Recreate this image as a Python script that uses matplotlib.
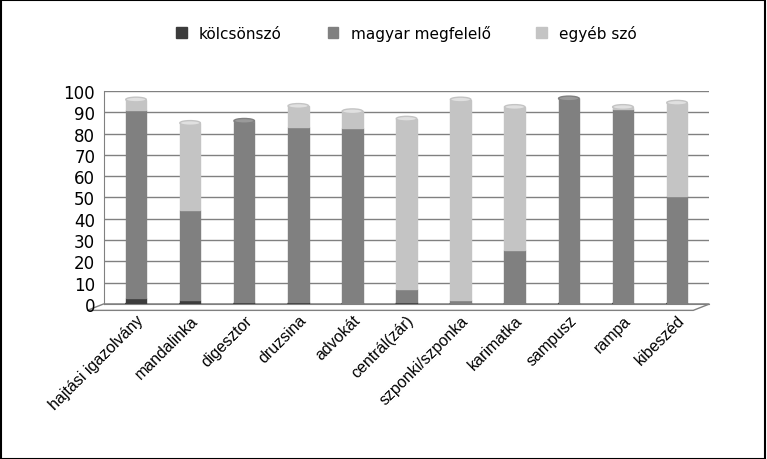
import matplotlib.pyplot as plt
from matplotlib.patches import Ellipse, Polygon
import numpy as np

categories = ['hajtási igazolvány', 'mandalinka', 'digesztor', 'druzsina', 'advokát',
              'centrál(zár)', 'szponki/szponka', 'karimatka', 'sampusz', 'rampa', 'kibeszéd']
kolcson = [3, 2, 1, 1, 0.5, 1, 0.5, 0.5, 0.5, 0.5, 0.5]
magyar = [88, 42, 85, 82, 82, 6, 1.5, 25, 96, 91, 50]
egyeb = [5, 41, 0, 10, 8, 80, 94, 67, 0, 1, 44]

colors = ['#3c3c3c', '#808080', '#c4c4c4']
names = ['kölcsönszó', 'magyar megfelelő', 'egyéb szó']

fig = plt.figure(figsize=(7.67, 4.6), dpi=100)
ax = fig.add_axes([0.135, 0.337, 0.79, 0.463])
x = np.arange(len(categories))
w = 0.38
bottoms = np.zeros(len(categories))
for vals, c, n in zip([kolcson, magyar, egyeb], colors, names):
    vals = np.array(vals, dtype=float)
    ax.bar(x, vals, w, bottom=bottoms, color=c, edgecolor=c, label=n, zorder=3)
    bottoms += vals

# cylinder caps
for i, total in enumerate(bottoms):
    top_col = colors[2] if egyeb[i] > 0.9 else colors[1]
    ax.add_patch(Ellipse((x[i], total), w, 2.2, facecolor='#e0e0e0' if top_col == colors[2] else '#9a9a9a',
                         edgecolor=top_col, lw=1, zorder=4))
    ax.add_patch(Ellipse((x[i], 0), w, 2.2, facecolor=colors[0], edgecolor=colors[0], zorder=2.9))

ax.set_xlim(-0.6, len(categories) - 0.4)
ax.set_ylim(0, 100)
ax.set_yticks(range(0, 101, 10))
ax.yaxis.grid(True, color='#808080', lw=1, zorder=0)
ax.set_xticks(x)
ax.set_xticklabels(categories, rotation=45, ha='right', rotation_mode='anchor', fontsize=11.5,
                   family='Liberation Sans')
for lb in ax.get_yticklabels():
    lb.set_fontsize(12)
ax.tick_params(length=0, pad=6)
for s in ['top', 'right']:
    ax.spines[s].set_visible(False)
ax.spines['left'].set_color('#808080')
ax.spines['bottom'].set_color('#808080')
# floor
ax.add_patch(Polygon([[-0.6, 0], [len(categories) - 0.4, 0], [len(categories) - 0.7, -3], [-0.9, -3]],
                     closed=True, facecolor='white', edgecolor='#808080', clip_on=False, zorder=1))

ax.legend(loc='lower center', bbox_to_anchor=(0.5, 1.17), ncol=3, frameon=False,
          fontsize=11, handlelength=0.7, handleheight=0.7, columnspacing=3)
fig.patches.append(plt.Rectangle((0.001, 0.001), 0.997, 0.997, transform=fig.transFigure,
                                 fill=False, edgecolor='black', lw=1.5))
fig.savefig('out.png', dpi=100)
